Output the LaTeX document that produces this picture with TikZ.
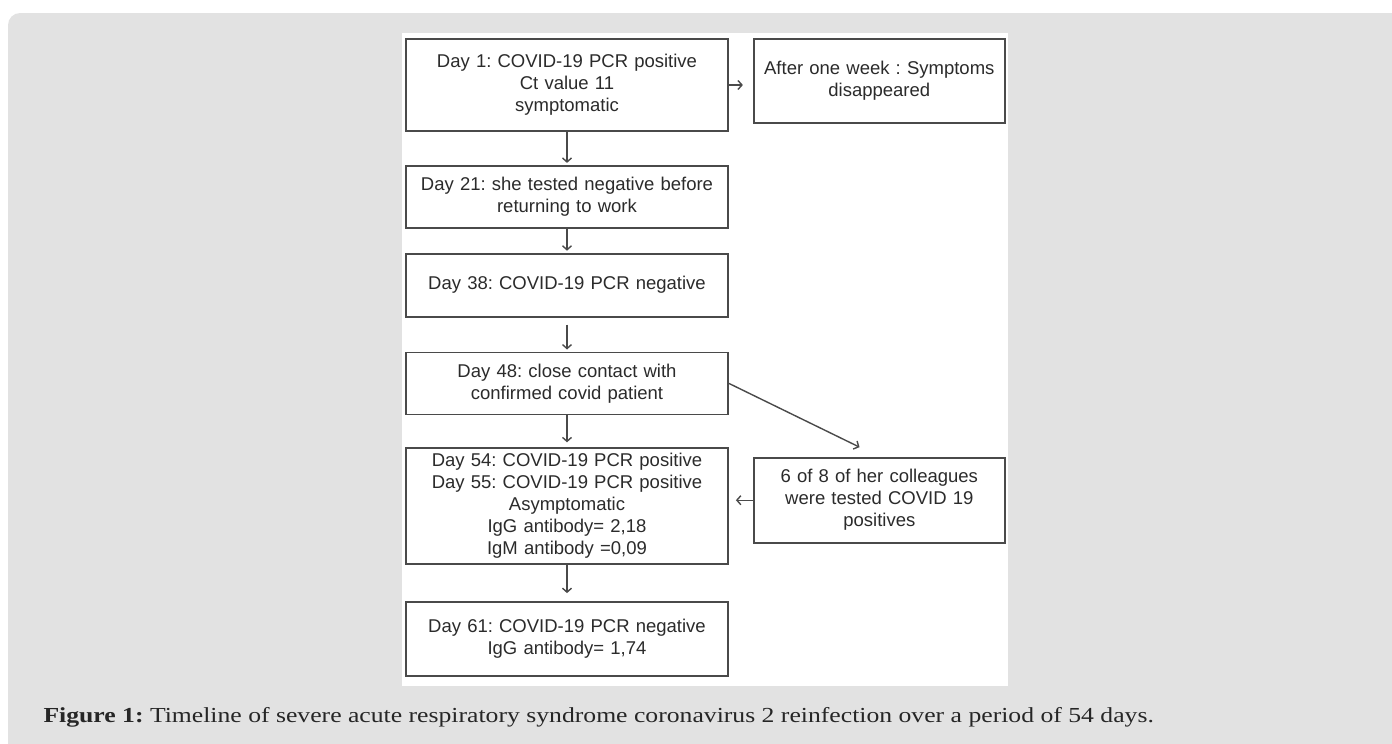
\documentclass[tikz,border=0pt]{standalone}
\usepackage{fontspec}
\setmainfont{Liberation Serif}
\setsansfont{Liberation Sans}
\newfontfamily\capfont[FakeStretch=1.2]{Liberation Serif}
\frenchspacing
\usetikzlibrary{positioning, arrows.meta}
\definecolor{pagegray}{HTML}{E2E2E2}
\definecolor{boxline}{HTML}{4A4A4A}
\definecolor{boxtext}{HTML}{2B2B2B}
\tikzset{
>={Straight Barb[length=4pt, width=9pt]}, % thin open arrow heads
node distance=24pt, % gap between the two columns
event/.style={draw=boxline, line width=1.8pt, fill=white, text=boxtext, align=center,
  text width=310pt, inner xsep=6pt, inner ysep=0pt,
  font=\sffamily\fontsize{18.5}{22}\selectfont}, % boxes of the main timeline
side/.style={event, text width=239pt}, % boxes in the right column
link/.style={->, draw=boxline, line width=1.4pt}, % connectors
}
\begin{document}
\begin{tikzpicture}[x=1pt, y=-1pt]
    \useasboundingbox (0,0) rectangle (1392,744);
    % page and figure panel
    \fill[pagegray, rounded corners=12pt] (8,13) rectangle (1420,770);
    \fill[white] (402,33) rectangle (1008,686);

    % main timeline
    \node[event, minimum height=92pt] (day1) at (567,85) {Day 1: COVID-19 PCR positive\\ Ct value 11\\ symptomatic};
    \node[event, minimum height=62pt, below=33pt of day1] (day21) {Day 21: she tested negative before\\ returning to work};
    \node[event, minimum height=63pt, below=24pt of day21] (day38) {Day 38: COVID-19 PCR negative};
    \node[event, minimum height=62pt, below=34pt of day38] (day48) {Day 48: close contact with\\ confirmed covid patient};
    \node[event, minimum height=116pt, below=32pt of day48] (day54) {Day 54: COVID-19 PCR positive\\ Day 55: COVID-19 PCR positive\\ Asymptomatic\\ IgG antibody= 2,18\\ IgM antibody =0,09};
    \node[event, minimum height=74pt, below=36pt of day54] (day61) {Day 61: COVID-19 PCR negative\\ IgG antibody= 1,74};

    % side boxes
    \node[side, minimum height=84pt, right=24pt of day1.north east, anchor=north west] (after) {After one week : Symptoms\\ disappeared};
    \node[side, minimum height=85pt, right=24pt of day54, yshift=6pt] (colleagues) {6 of 8 of her colleagues\\ were tested COVID 19\\ positives};

    % connectors
    \draw[link, shorten >=10pt] (day1.east) -- (day1.east -| after.west);
    \draw[link, shorten >=2pt] (day1) -- (day21);
    \draw[link, shorten >=2pt] (day21) -- (day38);
    \draw[link, shorten <=7pt, shorten >=2pt] (day38) -- (day48);
    \draw[link, shorten >=5pt] (day48) -- (day54);
    \draw[link, shorten >=8pt] (day54) -- (day61);
    \draw[link, shorten >=22pt] (day48.east) -- (colleagues.north);
    \draw[link, shorten >=7pt] (colleagues.west) -- (colleagues.west -| day54.east);

    % caption
    \node[anchor=base west, text=black!85, font=\capfont\fontsize{21.4}{24}\selectfont] (caption) at (40,722)
        {\textbf{Figure 1:} Timeline of severe acute respiratory syndrome coronavirus 2 reinfection over a period of 54 days.};
\end{tikzpicture}
\end{document}
